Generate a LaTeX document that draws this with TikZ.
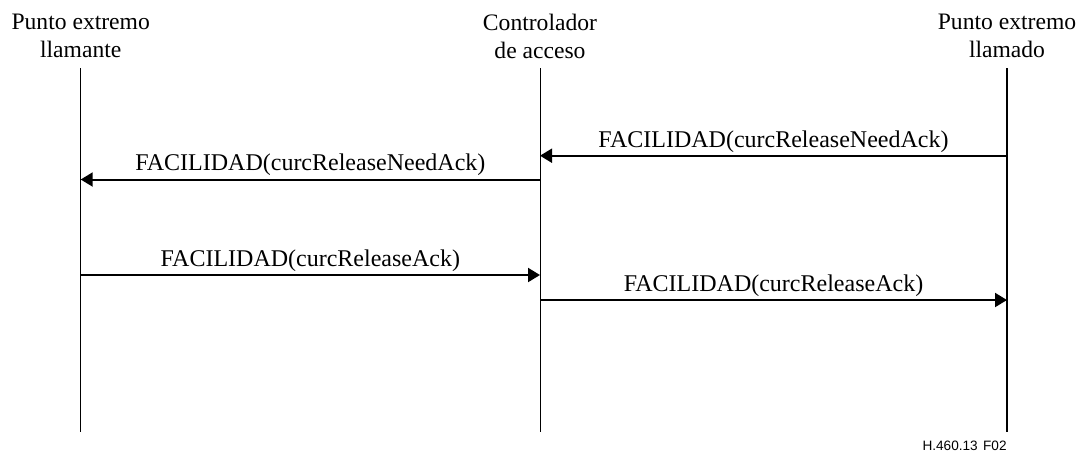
\documentclass[tikz,border=0pt]{standalone}
\usepackage{fontspec}
\setmainfont{Liberation Serif}
\newfontfamily\figfont{Liberation Sans}
\usetikzlibrary{arrows.meta}
\tikzset{
    >={Triangle[length=6pt,width=7pt]},
    sd/.style={
        party/.append style={align=center,inner sep=0pt,anchor=north,font=\fontsize{11.8}{14}\selectfont},
        lifeline/.append style={draw,line width=0.5pt},
        msg/.append style={draw,line width=1pt,->},
        lbl/.append style={inner sep=0pt,anchor=base,yshift=4.3pt,font=\fontsize{12}{14}\selectfont},
        figno/.append style={inner sep=0pt,anchor=base east,font=\figfont\fontsize{6.8}{8}\selectfont}
    }
}

\begin{document}
\begin{tikzpicture}[sd,x=0.5pt,y=-0.5pt]
    \useasboundingbox (0,0) rectangle (1079,452);
    % parties
    \node[party] (ep1) at (80.7,14) {Punto extremo\\llamante};
    \node[party] (gk) at (540,14) {Controlador\\de acceso};
    \node[party] (ep2) at (1007,14) {Punto extremo\\llamado};
    % lifelines
    \coordinate (ep1t) at (80.7,68);  \coordinate (ep1b) at (80.7,432);
    \coordinate (gkt) at (540,68);    \coordinate (gkb) at (540,432);
    \coordinate (ep2t) at (1007,68);  \coordinate (ep2b) at (1007,432);
    \draw[lifeline] (ep1t) -- (ep1b);
    \draw[lifeline] (gkt) -- (gkb);
    \draw[lifeline,line width=1pt] (ep2t) -- (ep2b);
    % messages
    \coordinate (m1) at (0,155.7);
    \coordinate (m2) at (0,179.5);
    \coordinate (m3) at (0,275);
    \coordinate (m4) at (0,300);
    \draw[msg] (ep2t |- m1) -- node[lbl] {FACILIDAD(curcReleaseNeedAck)} (gkt |- m1);
    \draw[msg] (gkt |- m2) -- node[lbl] {FACILIDAD(curcReleaseNeedAck)} (ep1t |- m2);
    \draw[msg] (ep1t |- m3) -- node[lbl] {FACILIDAD(curcReleaseAck)} (gkt |- m3);
    \draw[msg] (gkt |- m4) -- node[lbl] {FACILIDAD(curcReleaseAck)} (ep2t |- m4);
    \node[figno] (fig) at (1007,450) {H.460.13\hspace{0.4em}F02};
\end{tikzpicture}
\end{document}
